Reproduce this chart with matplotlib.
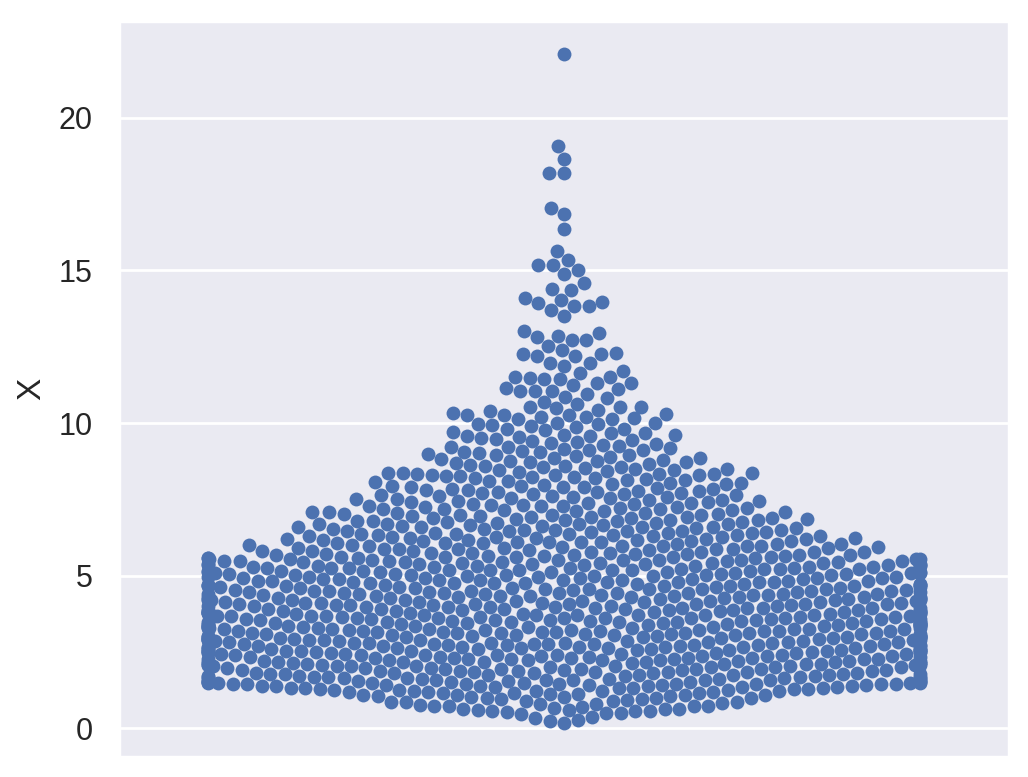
import warnings

import matplotlib
matplotlib.use("Agg")
import matplotlib.pyplot as plt
import pandas as pd
import seaborn as sns

bottom_tail = [0.17, 0.24, 0.26, 0.35, 0.37, 0.46,
               0.50, 0.51, 0.53, 0.56, 0.56, 0.58, 0.60, 0.62, 0.63, 0.63,
               0.65, 0.68, 0.70, 0.72, 0.72, 0.73, 0.75, 0.77, 0.79, 0.81,
               0.83, 0.85, 0.86, 0.88, 0.89, 0.91, 0.93, 0.95, 0.97, 0.99]

band_1 = [1.00, 1.01, 1.02, 1.04, 1.05, 1.06, 1.08, 1.09,
          1.10, 1.11, 1.12, 1.14, 1.15, 1.16, 1.17, 1.18, 1.19,
          1.20, 1.21, 1.22, 1.23, 1.24, 1.25, 1.26, 1.27, 1.28, 1.29,
          1.30, 1.31, 1.32, 1.33, 1.33, 1.34, 1.35, 1.36, 1.37, 1.38, 1.38, 1.39,
          1.40, 1.40, 1.41, 1.42, 1.42, 1.43, 1.44, 1.44, 1.45, 1.45, 1.46, 1.46,
          1.47, 1.47, 1.48, 1.48, 1.49, 1.49,
          1.50, 1.50, 1.51, 1.51, 1.52, 1.53, 1.53, 1.54, 1.54, 1.55, 1.56, 1.57, 1.57,
          1.58, 1.58, 1.59,
          1.60, 1.61, 1.61, 1.62, 1.63, 1.64, 1.64, 1.65, 1.66, 1.67, 1.68, 1.68, 1.69,
          1.70, 1.71, 1.71, 1.72, 1.73, 1.74, 1.75, 1.75, 1.76, 1.77, 1.78, 1.79, 1.79,
          1.80, 1.81, 1.82, 1.82, 1.83, 1.84, 1.85, 1.86, 1.86, 1.87, 1.88, 1.89, 1.89,
          1.90, 1.91, 1.92, 1.92, 1.93, 1.94, 1.95, 1.96, 1.96, 1.97, 1.98, 1.99]

band_2 = [2.00, 2.00, 2.01, 2.02, 2.03, 2.03, 2.04, 2.05, 2.05, 2.06, 2.07, 2.07, 2.08, 2.09, 2.09,
          2.10, 2.11, 2.11, 2.12, 2.13, 2.13, 2.14, 2.15, 2.15, 2.16, 2.17, 2.18, 2.18, 2.19, 2.19,
          2.20, 2.21, 2.21, 2.22, 2.23, 2.24, 2.24, 2.25, 2.26, 2.26, 2.27, 2.28, 2.29, 2.29,
          2.30, 2.30, 2.31, 2.32, 2.32, 2.33, 2.34, 2.35, 2.35, 2.36, 2.37, 2.37, 2.38, 2.39, 2.39,
          2.40, 2.41, 2.41, 2.42, 2.43, 2.44, 2.44, 2.45, 2.46, 2.46, 2.47, 2.48, 2.49, 2.49,
          2.50, 2.50, 2.51, 2.52, 2.52, 2.53, 2.54, 2.54, 2.55, 2.56, 2.56, 2.57, 2.58, 2.58, 2.59, 2.59,
          2.60, 2.61, 2.61, 2.62, 2.63, 2.63, 2.64, 2.65, 2.66, 2.66, 2.67, 2.68, 2.68, 2.69, 2.69,
          2.70, 2.70, 2.71, 2.72, 2.72, 2.73, 2.74, 2.74, 2.75, 2.76, 2.76, 2.77, 2.78, 2.78, 2.79, 2.79,
          2.80, 2.81, 2.81, 2.82, 2.83, 2.83, 2.84, 2.85, 2.86, 2.86, 2.87, 2.88, 2.88, 2.89, 2.89,
          2.90, 2.91, 2.91, 2.92, 2.93, 2.93, 2.94, 2.95, 2.96, 2.96, 2.97, 2.98, 2.98, 2.99, 2.99]

band_3 = [3.00, 3.00, 3.01, 3.02, 3.02, 3.03, 3.04, 3.04, 3.05, 3.06, 3.06, 3.07, 3.08, 3.08, 3.09, 3.09,
          3.10, 3.11, 3.11, 3.12, 3.13, 3.13, 3.14, 3.15, 3.16, 3.16, 3.17, 3.18, 3.18, 3.19, 3.19,
          3.20, 3.20, 3.21, 3.22, 3.22, 3.23, 3.24, 3.24, 3.25, 3.26, 3.26, 3.27, 3.28, 3.28, 3.29, 3.29,
          3.30, 3.31, 3.31, 3.32, 3.33, 3.33, 3.34, 3.35, 3.36, 3.36, 3.37, 3.38, 3.38, 3.39, 3.39,
          3.40, 3.41, 3.41, 3.42, 3.43, 3.43, 3.44, 3.45, 3.46, 3.46, 3.47, 3.48, 3.48, 3.49, 3.49,
          3.50, 3.50, 3.51, 3.52, 3.53, 3.53, 3.54, 3.55, 3.55, 3.56, 3.57, 3.57, 3.58, 3.59, 3.59,
          3.60, 3.61, 3.61, 3.62, 3.63, 3.63, 3.64, 3.65, 3.65, 3.66, 3.67, 3.67, 3.68, 3.69, 3.69,
          3.70, 3.70, 3.71, 3.72, 3.73, 3.73, 3.74, 3.75, 3.75, 3.76, 3.77, 3.77, 3.78, 3.79, 3.79,
          3.80, 3.81, 3.81, 3.82, 3.83, 3.83, 3.84, 3.85, 3.85, 3.86, 3.87, 3.87, 3.88, 3.89, 3.89,
          3.90, 3.91, 3.91, 3.92, 3.93, 3.94, 3.94, 3.95, 3.96, 3.96, 3.97, 3.98, 3.99, 3.99]

band_4 = [4.00, 4.01, 4.01, 4.02, 4.03, 4.04, 4.04, 4.05, 4.06, 4.06, 4.07, 4.08, 4.09, 4.09,
          4.10, 4.11, 4.11, 4.12, 4.13, 4.14, 4.14, 4.15, 4.16, 4.16, 4.17, 4.18, 4.19, 4.19,
          4.20, 4.21, 4.21, 4.22, 4.23, 4.24, 4.24, 4.25, 4.26, 4.26, 4.27, 4.28, 4.29, 4.29,
          4.30, 4.31, 4.31, 4.32, 4.33, 4.34, 4.34, 4.35, 4.36, 4.36, 4.37, 4.38, 4.39, 4.39,
          4.40, 4.41, 4.41, 4.42, 4.43, 4.44, 4.44, 4.45, 4.46, 4.46, 4.47, 4.48, 4.49, 4.49,
          4.50, 4.51, 4.51, 4.52, 4.53, 4.54, 4.55, 4.55, 4.56, 4.57, 4.58, 4.59, 4.59,
          4.60, 4.61, 4.62, 4.62, 4.63, 4.64, 4.65, 4.66, 4.66, 4.67, 4.68, 4.69, 4.69,
          4.70, 4.71, 4.71, 4.72, 4.73, 4.74, 4.75, 4.75, 4.76, 4.77, 4.78, 4.79, 4.79,
          4.80, 4.81, 4.82, 4.82, 4.83, 4.84, 4.85, 4.86, 4.86, 4.87, 4.88, 4.89, 4.89,
          4.90, 4.91, 4.92, 4.92, 4.93, 4.94, 4.95, 4.96, 4.97, 4.97, 4.98, 4.99]

band_5 = [5.00, 5.01, 5.02, 5.03, 5.03, 5.04, 5.05, 5.05, 5.06, 5.07, 5.08, 5.08, 5.09,
          5.10, 5.11, 5.12, 5.12, 5.13, 5.13, 5.14, 5.15, 5.16, 5.17, 5.18, 5.18, 5.19, 5.19,
          5.20, 5.21, 5.22, 5.23, 5.23, 5.24, 5.25, 5.25, 5.26, 5.27, 5.28, 5.28, 5.29,
          5.30, 5.31, 5.32, 5.32, 5.33, 5.34, 5.35, 5.36, 5.36, 5.37, 5.38, 5.38, 5.39,
          5.40, 5.41, 5.41, 5.42, 5.43, 5.44, 5.44, 5.45, 5.46, 5.47, 5.47, 5.48, 5.49, 5.49,
          5.50, 5.51, 5.52, 5.52, 5.53, 5.54, 5.55, 5.55, 5.56, 5.57, 5.58, 5.58, 5.59,
          5.60, 5.61, 5.62, 5.62, 5.63, 5.64, 5.65, 5.66, 5.67, 5.68, 5.68, 5.69,
          5.70, 5.71, 5.72, 5.73, 5.74, 5.76, 5.77, 5.78, 5.79, 5.79,
          5.80, 5.81, 5.82, 5.83, 5.85, 5.86, 5.87, 5.88, 5.89, 5.89,
          5.90, 5.91, 5.92, 5.93, 5.95, 5.96, 5.97, 5.98, 5.99, 5.99]

band_6 = [6.00, 6.01, 6.03, 6.04, 6.05, 6.06, 6.07, 6.08, 6.09, 6.09,
          6.10, 6.11, 6.13, 6.14, 6.15, 6.16, 6.17, 6.18, 6.19,
          6.20, 6.21, 6.22, 6.23, 6.25, 6.26, 6.27, 6.28, 6.29,
          6.30, 6.31, 6.33, 6.34, 6.35, 6.36, 6.37, 6.38, 6.39,
          6.40, 6.41, 6.43, 6.44, 6.45, 6.46, 6.47, 6.48, 6.49,
          6.50, 6.51, 6.53, 6.54, 6.56, 6.57, 6.58, 6.59,
          6.60, 6.61, 6.63, 6.64, 6.65, 6.66, 6.68, 6.69,
          6.70, 6.71, 6.73, 6.74, 6.75, 6.77, 6.78, 6.79,
          6.80, 6.81, 6.83, 6.84, 6.85, 6.87, 6.88, 6.89,
          6.90, 6.91, 6.93, 6.94, 6.95, 6.97, 6.98, 6.99]

band_7_8 = [7.00, 7.02, 7.03, 7.05, 7.06, 7.08, 7.09,
            7.10, 7.12, 7.13, 7.15, 7.16, 7.18, 7.19,
            7.20, 7.21, 7.23, 7.24, 7.25, 7.27, 7.28,
            7.30, 7.32, 7.33, 7.35, 7.36, 7.38, 7.39,
            7.40, 7.42, 7.44, 7.45, 7.47, 7.49,
            7.50, 7.52, 7.54, 7.55, 7.57, 7.59,
            7.60, 7.62, 7.63, 7.65, 7.67, 7.69,
            7.70, 7.72, 7.74, 7.75, 7.77, 7.79,
            7.80, 7.82, 7.83, 7.85, 7.87, 7.89,
            7.90, 7.92, 7.94, 7.95, 7.97, 7.99,
            8.01, 8.03, 8.05, 8.07, 8.09,
            8.11, 8.13, 8.15, 8.17, 8.19,
            8.21, 8.23, 8.24, 8.25, 8.27, 8.29,
            8.30, 8.31, 8.32, 8.33, 8.34, 8.35, 8.36, 8.38,
            8.41, 8.43, 8.45, 8.47, 8.49]

band_9 = [8.51, 8.53, 8.55, 8.57, 8.59, 8.61, 8.64, 8.66, 8.69,
          8.71, 8.73, 8.75, 8.77, 8.79, 8.81, 8.84, 8.86, 8.89,
          8.91, 8.94, 8.96, 8.99,
          9.01, 9.04, 9.06, 9.09, 9.11, 9.13, 9.16, 9.18,
          9.21, 9.23, 9.26, 9.28, 9.32, 9.35, 9.38, 9.42, 9.45, 9.48,
          9.52, 9.55, 9.56, 9.59, 9.61, 9.62, 9.66, 9.69, 9.72, 9.76, 9.79,
          9.82, 9.86, 9.89, 9.92, 9.96, 9.97]

upper_tail = [10.00, 10.01, 10.13, 10.13, 10.15, 10.20, 10.20, 10.26, 10.28, 10.28,
              10.31, 10.33, 10.39, 10.44, 10.49, 10.51, 10.51, 10.54, 10.63, 10.68,
              10.81, 10.86, 10.96, 11.04, 11.06, 11.06, 11.11, 11.15, 11.24, 11.31,
              11.32, 11.44, 11.45, 11.48, 11.50, 11.51, 11.64, 11.70, 11.88, 11.96,
              11.96, 12.18, 12.21, 12.25, 12.26, 12.28, 12.38, 12.52, 12.72, 12.73,
              12.81, 12.86, 12.94, 13.02, 13.50, 13.70, 13.83, 13.84, 13.93, 13.98,
              14.02, 14.09, 14.37, 14.38, 14.58, 14.89, 15.02, 15.17, 15.18, 15.33,
              15.63, 16.37, 16.83, 17.03, 18.18, 18.20, 18.66, 19.07, 22.08]

df = pd.DataFrame({"X": bottom_tail + band_1 + band_2 + band_3 + band_4
                   + band_5 + band_6 + band_7_8 + band_9 + upper_tail})

sns.set_theme()
plt.rcParams["font.family"] = ["Liberation Sans", "DejaVu Sans"]

fig = plt.figure(figsize=(5.14, 3.885), dpi=200)
ax = fig.add_axes([119 / 1028, 20.3 / 777, 890 / 1028, 736 / 777])

with warnings.catch_warnings():
    warnings.simplefilter("ignore")
    sns.swarmplot(data=df, y="X", ax=ax)
    fig.savefig("out.png", dpi=200)
